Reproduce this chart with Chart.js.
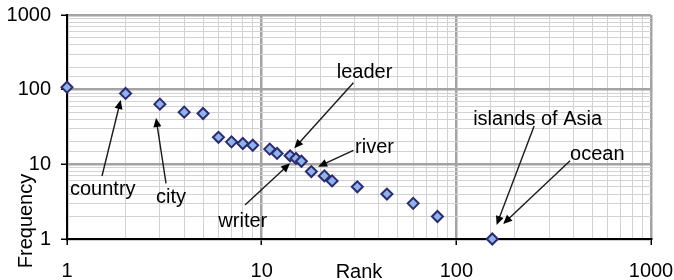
<!DOCTYPE html>
<html>
<head>
<meta charset="utf-8">
<script src="https://cdn.jsdelivr.net/npm/chart.js@4.4.0/dist/chart.umd.min.js"></script>
<style>
  html, body { margin: 0; padding: 0; background: #fff; }
</style>
</head>
<body>
<canvas id="rankChart" width="674" height="280"></canvas>
<script>
const ranks = [1, 2, 3, 4, 5, 6, 7, 8, 9, 11, 12, 14, 15, 16, 18, 21, 23, 31, 44, 60, 80, 153];
const frequencies = [108, 89, 64, 50, 48, 23, 20, 19, 18, 16, 14, 13, 12, 11, 8, 7, 6, 5, 4, 3, 2, 1];
const axisLabels = [1, 10, 100, 1000];

// words pointed at on the chart: text anchor (left, baseline), line start, arrow tip - in data units
const noteWords = ['country', 'city', 'leader', 'writer', 'river', 'islands of Asia', 'ocean'];
const noteTextAt = [[1.036, 3.885], [2.866, 3.03], [24.3, 143], [5.99, 1.448], [30.2, 14.2], [122, 33.6], [384, 11.4]];
const noteFrom = [[1.513, 6.98], [3.226, 5.57], [29.6, 124], [8.21, 2.85], [29.6, 15.4], [251, 32.6], [384, 11.18]];
const noteTip = [[1.887, 72.7], [2.866, 41.7], [14.7, 16.4], [13.98, 10.3], [19.5, 9.3], [161, 1.54], [174, 1.59]];

const FONT = "'Liberation Sans', Arial, Helvetica, sans-serif";

function isDecade(v) {
  return axisLabels.includes(v);
}

function arrow(ctx, x1, y1, x2, y2) {
  const ang = Math.atan2(y2 - y1, x2 - x1);
  const head = 9, half = 4;
  ctx.beginPath();
  ctx.moveTo(x1, y1);
  ctx.lineTo(x2 - Math.cos(ang) * head * 0.8, y2 - Math.sin(ang) * head * 0.8);
  ctx.stroke();
  ctx.beginPath();
  ctx.moveTo(x2, y2);
  ctx.lineTo(x2 - Math.cos(ang) * head + Math.sin(ang) * half, y2 - Math.sin(ang) * head - Math.cos(ang) * half);
  ctx.lineTo(x2 - Math.cos(ang) * head - Math.sin(ang) * half, y2 - Math.sin(ang) * head + Math.cos(ang) * half);
  ctx.closePath();
  ctx.fill();
}

const notesPlugin = {
  id: 'notes',
  afterDraw(chart) {
    const ctx = chart.ctx;
    const xs = chart.scales.x, ys = chart.scales.y;
    const area = chart.chartArea;
    ctx.save();
    ctx.font = '20px ' + FONT;
    ctx.fillStyle = '#000';
    ctx.strokeStyle = '#1a1a1a';
    ctx.lineWidth = 1.4;
    ctx.textAlign = 'left';
    ctx.textBaseline = 'alphabetic';
    noteWords.forEach((w, i) => {
      ctx.fillText(w, xs.getPixelForValue(noteTextAt[i][0]), ys.getPixelForValue(noteTextAt[i][1]));
      arrow(ctx,
        xs.getPixelForValue(noteFrom[i][0]), ys.getPixelForValue(noteFrom[i][1]),
        xs.getPixelForValue(noteTip[i][0]), ys.getPixelForValue(noteTip[i][1]));
    });

    // axis titles sit low, like the original sheet
    ctx.textAlign = 'center';
    ctx.fillText('Rank', (area.left + area.right) / 2, chart.height - 2);
    ctx.translate(32, area.bottom - 18);
    ctx.rotate(-Math.PI / 2);
    ctx.fillText('Frequency', 0, 0);
    ctx.restore();
  }
};

document.addEventListener('DOMContentLoaded', function() {
  Chart.defaults.font.family = FONT;
  Chart.defaults.font.size = 20;
  Chart.defaults.color = '#000';

  const gridStyle = {
    color: c => isDecade(c.tick.value) ? '#a3a3a3' : '#d2d2d2',
    lineWidth: c => isDecade(c.tick.value) ? 2.5 : 1,
    tickColor: c => isDecade(c.tick.value) ? '#000' : 'rgba(0,0,0,0)',
    tickWidth: 1.5,
    tickLength: 6
  };

  new Chart(document.getElementById('rankChart'), {
    type: 'scatter',
    data: {
      datasets: [{
        data: ranks.map((r, i) => ({ x: r, y: frequencies[i] })),
        pointStyle: 'rectRot',
        pointRadius: 5.5,
        pointBackgroundColor: '#8fb3e8',
        pointBorderColor: '#2b2b73',
        pointBorderWidth: 2,
        clip: false
      }]
    },
    options: {
      responsive: false,
      animation: false,
      layout: { padding: { top: 15, right: 23, left: 0, bottom: 0 } },
      plugins: { legend: { display: false }, tooltip: { enabled: false } },
      scales: {
        x: {
          type: 'logarithmic',
          min: 1,
          max: 1000,
          afterFit: s => { s.height = 41; s.paddingLeft = 0; s.paddingRight = 0; },
          grid: gridStyle,
          border: { color: '#000', width: 2 },
          ticks: {
            autoSkip: false,
            maxRotation: 0,
            padding: 14,
            callback: v => isDecade(v) ? String(v) : ''
          }
        },
        y: {
          type: 'logarithmic',
          min: 1,
          max: 1000,
          afterFit: s => { s.width = 67; s.paddingTop = 0; s.paddingBottom = 0; },
          grid: gridStyle,
          border: { color: '#000', width: 2 },
          ticks: {
            autoSkip: false,
            padding: 10,
            callback: v => isDecade(v) ? String(v) : ''
          }
        }
      }
    },
    plugins: [notesPlugin]
  });
});
</script>
</body>
</html>
